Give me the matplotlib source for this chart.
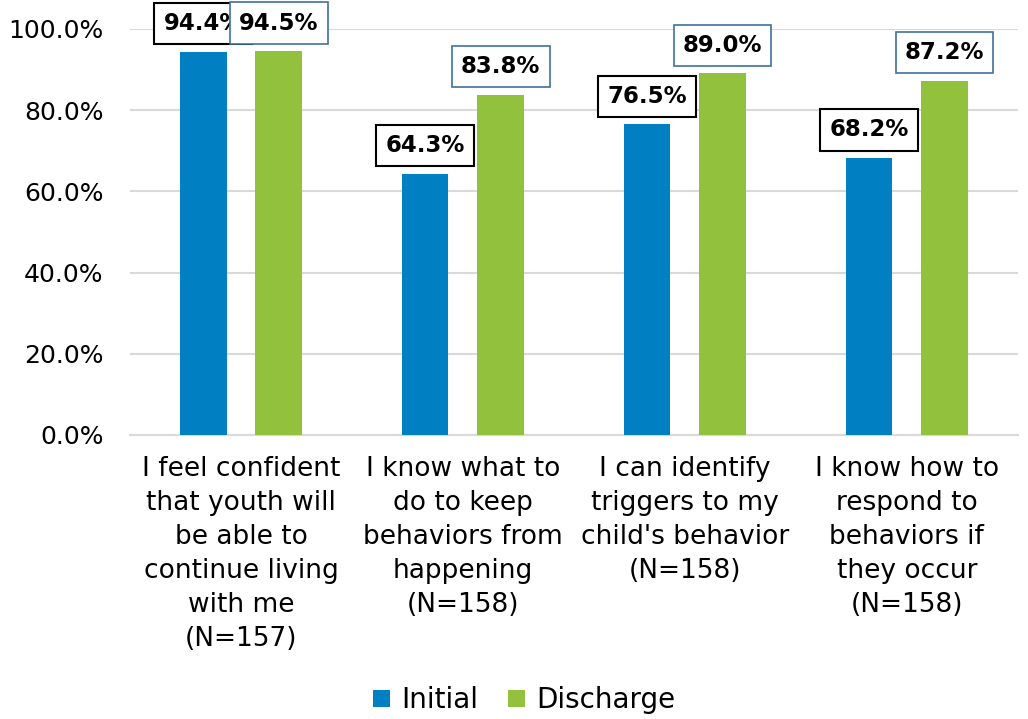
import matplotlib.pyplot as plt
import numpy as np

categories = [
    "I feel confident\nthat youth will\nbe able to\ncontinue living\nwith me\n(N=157)",
    "I know what to\ndo to keep\nbehaviors from\nhappening\n(N=158)",
    "I can identify\ntriggers to my\nchild's behavior\n(N=158)",
    "I know how to\nrespond to\nbehaviors if\nthey occur\n(N=158)",
]
initial = [94.4, 64.3, 76.5, 68.2]
discharge = [94.5, 83.8, 89.0, 87.2]
yticks = [0, 20, 40, 60, 80, 100]

BLUE = "#0080C3"
GREEN = "#92C13E"

plt.rcParams["font.family"] = ["DejaVu Sans"]

fig = plt.figure(figsize=(10.28, 7.19), dpi=100)
ax = fig.add_axes([0.1265, 0.395, 0.8635, 0.565])

x = np.arange(len(categories))
w = 0.21
off = 0.17
ax.bar(x - off, initial, w, color=BLUE, label="Initial", zorder=3)
ax.bar(x + off, discharge, w, color=GREEN, label="Discharge", zorder=3)

for xi, v in zip(x - off, initial):
    ax.text(xi, v + 6.9, f"{v:.1f}%", ha="center", va="center", fontsize=16.5,
            fontweight="bold", zorder=5,
            bbox=dict(boxstyle="square,pad=0.4", fc="white", ec="black", lw=1.5))
for xi, v in zip(x + off, discharge):
    ax.text(xi, v + 6.9, f"{v:.1f}%", ha="center", va="center", fontsize=16.5,
            fontweight="bold", zorder=5,
            bbox=dict(boxstyle="square,pad=0.4", fc="white", ec="#41719C", lw=1.2))

ax.set_xlim(-0.5, len(categories) - 0.5)
ax.set_ylim(0, 100)
ax.set_yticks(yticks)
ax.set_yticklabels([f"{t:.1f}%" for t in yticks], fontsize=18)
ax.set_xticks(x)
ax.set_xticklabels(categories, fontsize=19, linespacing=1.4, va="top")
ax.tick_params(axis="y", length=0, pad=19)
ax.tick_params(axis="x", length=0, pad=15)
ax.grid(axis="y", color="#D9D9D9", lw=1.5, zorder=0)
for s in ["top", "right", "left"]:
    ax.spines[s].set_visible(False)
ax.spines["bottom"].set_color("#D9D9D9")
ax.spines["bottom"].set_linewidth(1.5)

fig.legend(loc="lower center", bbox_to_anchor=(0.51, -0.028), ncol=2, frameon=False,
           fontsize=20, handlelength=0.6, handleheight=0.6, handletextpad=0.4,
           columnspacing=1.1)

fig.savefig("out.png", dpi=100)
